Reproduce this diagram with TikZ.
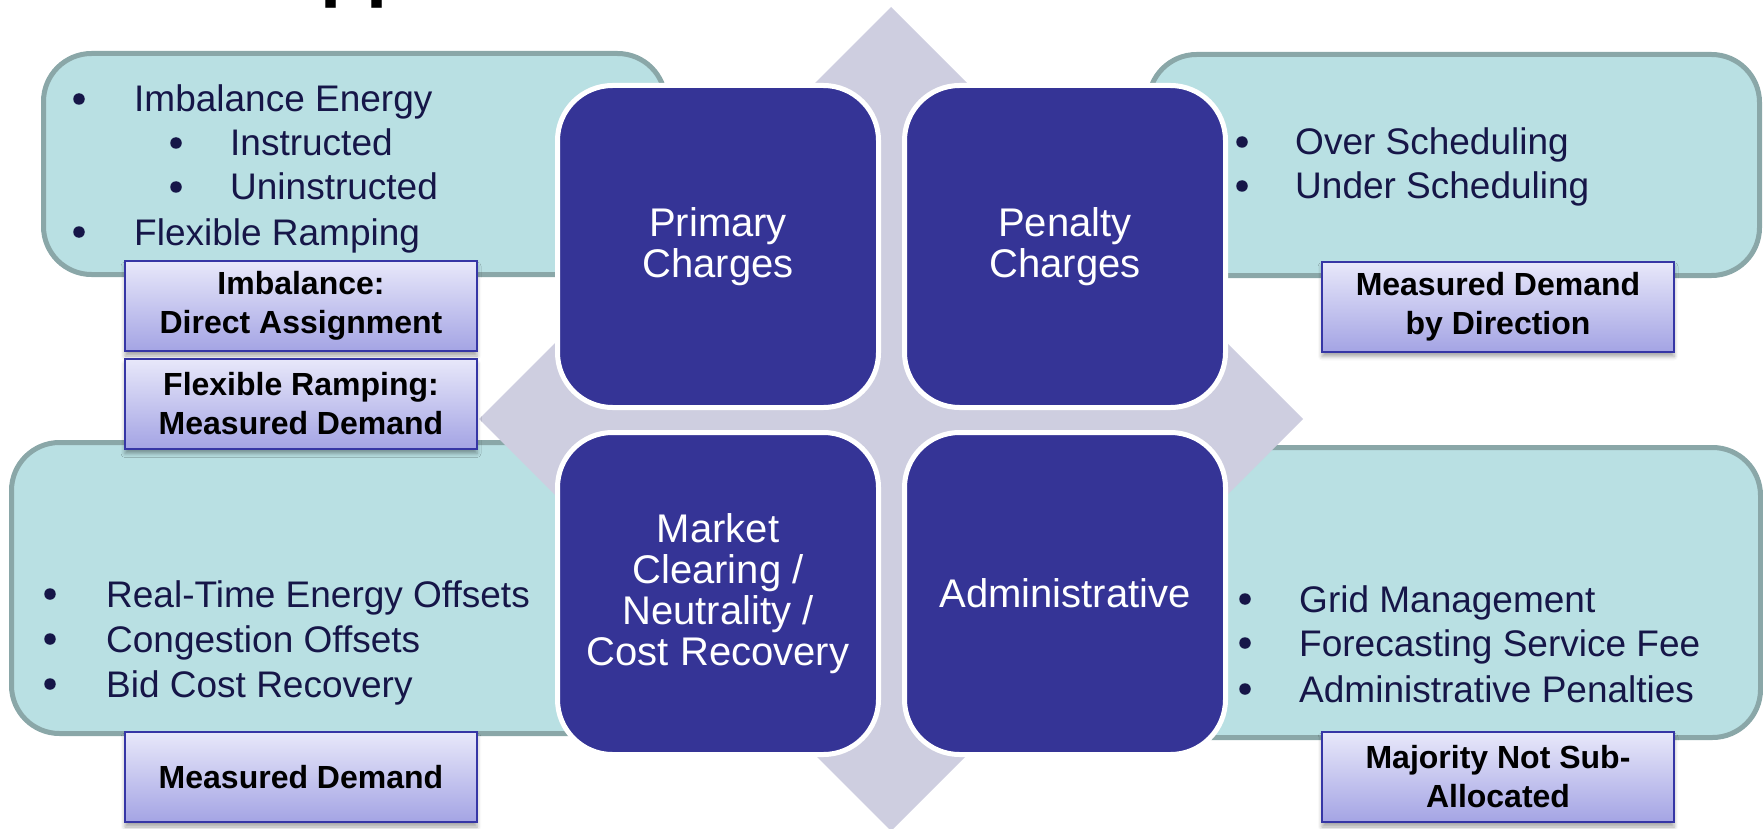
\documentclass[tikz,border=0pt]{standalone}
\usepackage{fontspec}
\setmainfont{Liberation Sans}
\usetikzlibrary{shadows.blur}

\definecolor{tealfill}{RGB}{185,224,227}
\definecolor{tealline}{RGB}{138,167,168}
\definecolor{diamondgray}{RGB}{206,206,224}
\definecolor{navyfill}{RGB}{53,52,150}
\definecolor{listtext}{RGB}{22,22,72}
\definecolor{tagtop}{RGB}{232,232,250}
\definecolor{tagbottom}{RGB}{164,164,228}
\definecolor{tagline}{RGB}{54,54,165}

\begin{document}
\begin{tikzpicture}[x=1pt,y=-1pt,
  panel/.style={draw=tealline, fill=tealfill, line width=5pt, rounded corners=48pt, inner sep=0pt},
  charge/.style={draw=white, fill=navyfill, line width=5pt, rounded corners=55pt,
    minimum width=321pt, minimum height=322pt, inner sep=0pt,
    text=white, align=center, font=\fontsize{40}{41}\selectfont},
  tag/.style={draw=tagline, line width=2pt, top color=tagtop, bottom color=tagbottom,
    minimum width=352pt, minimum height=90pt, inner sep=0pt, align=center,
    font=\fontsize{32}{39}\selectfont\bfseries, text=black,
    blur shadow={shadow xshift=0pt, shadow yshift=-5pt, shadow blur radius=4pt, shadow opacity=35}},
  item/.style={anchor=base west, inner sep=0pt, text=listtext, font=\fontsize{37}{44}\selectfont},
  dot/.style={circle, fill=listtext, minimum size=11.5pt, inner sep=0pt},
]
\useasboundingbox (0,0) rectangle (1763,829);

% heading, cut off by the top edge
\begin{scope}
  \clip (0,0) rectangle (1763,829);
  \node[anchor=base west, inner sep=0pt, font=\fontsize{76}{80}\selectfont\bfseries] (heading) at (320,-7) {pp};
\end{scope}

% the four description panels
\node[panel, minimum width=622pt, minimum height=221pt] (pTL) at (354.5,164) {};
\node[panel, minimum width=611pt, minimum height=221pt] (pTR) at (1454,165) {};
\node[panel, minimum width=619pt, minimum height=291pt] (pBL) at (321,588) {};
\node[panel, minimum width=612pt, minimum height=290pt] (pBR) at (1454.5,592.5) {};

% background diamond
\fill[diamondgray] (891,7) -- (1303,419) -- (891,831) -- (479,419) -- cycle;

% the four charge categories
\node[charge] (primary) at (718,246.5) {Primary\\Charges};
\node[charge] (penalty) at (1065,246.5) {Penalty\\Charges};
\node[charge] (market) at (718,593.5) {Market\\Clearing /\\Neutrality /\\Cost Recovery};
\node[charge] (admin) at (1065,593.5) {Administrative};

% allocation tags
\node[tag] (tImb) at (301,306) {Imbalance:\\Direct Assignment};
\node[tag] (tFlex) at (301,403.5) {Flexible Ramping:\\Measured Demand};
\node[tag] (tDir) at (1498,306.5) {Measured Demand\\by Direction};
\node[tag] (tMeas) at (301,777) {Measured Demand};
\node[tag] (tMaj) at (1498,777) {Majority Not Sub-\\Allocated};

% primary charges list
\node[dot] (b1) at (79,99) {};    \node[item] (i1) at (134,112) {Imbalance Energy};
\node[dot] (b2) at (176,143) {};  \node[item] (i2) at (230,156) {Instructed};
\node[dot] (b3) at (176,187) {};  \node[item] (i3) at (230,200) {Uninstructed};
\node[dot] (b4) at (79,232) {};   \node[item] (i4) at (134,245) {Flexible Ramping};

% penalty charges list
\node[dot] (b5) at (1242,142) {}; \node[item] (i5) at (1295,155) {Over Scheduling};
\node[dot] (b6) at (1242,186) {}; \node[item] (i6) at (1295,199) {Under Scheduling};

% market clearing list
\node[dot] (b7) at (50,594) {};   \node[item] (i7) at (106,607) {Real-Time Energy Offsets};
\node[dot] (b8) at (50,639) {};   \node[item] (i8) at (106,652) {Congestion Offsets};
\node[dot] (b9) at (50,684) {};   \node[item] (i9) at (106,697) {Bid Cost Recovery};

% administrative list
\node[dot] (b10) at (1245,599) {}; \node[item] (i10) at (1299,612) {Grid Management};
\node[dot] (b11) at (1245,643) {}; \node[item] (i11) at (1299,656) {Forecasting Service Fee};
\node[dot] (b12) at (1245,689) {}; \node[item] (i12) at (1299,702) {Administrative Penalties};
\end{tikzpicture}
\end{document}
